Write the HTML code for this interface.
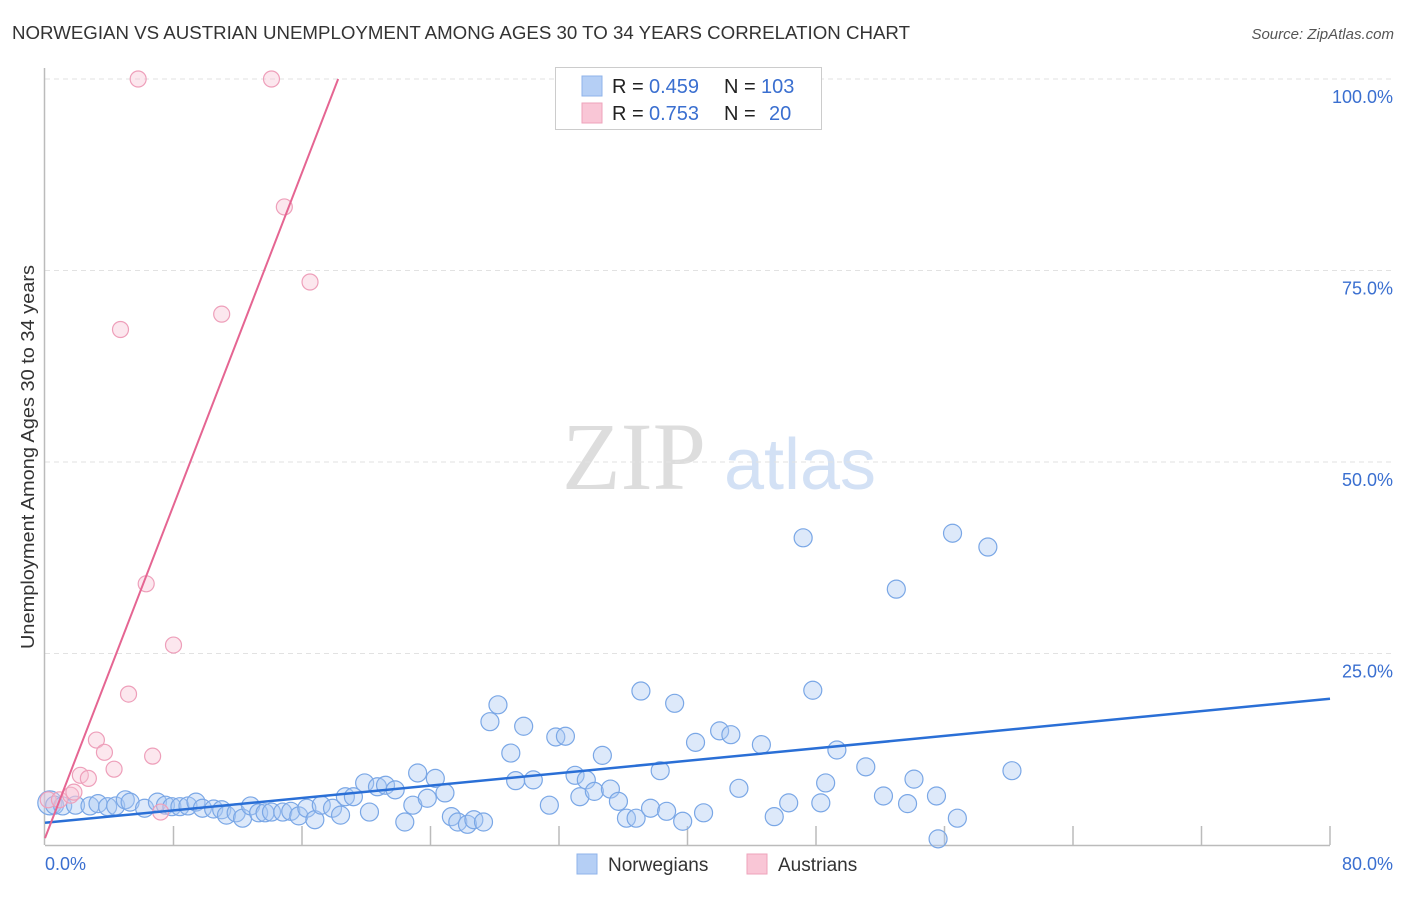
<!DOCTYPE html>
<html><head><meta charset="utf-8"><style>
body{margin:0;background:#fff;width:1406px;height:892px;overflow:hidden;font-family:"Liberation Sans",sans-serif}
</style></head><body>
<svg id="chart" width="1406" height="892" xmlns="http://www.w3.org/2000/svg" style="font-family:'Liberation Sans',sans-serif">
<text x="12" y="39" font-size="18" fill="#333" textLength="898" lengthAdjust="spacingAndGlyphs">NORWEGIAN VS AUSTRIAN UNEMPLOYMENT AMONG AGES 30 TO 34 YEARS CORRELATION CHART</text>
<text x="1394" y="39" font-size="15" fill="#555" font-style="italic" text-anchor="end">Source: ZipAtlas.com</text>
<text transform="translate(34,457) rotate(-90)" font-size="18" fill="#333" text-anchor="middle" textLength="384" lengthAdjust="spacingAndGlyphs">Unemployment Among Ages 30 to 34 years</text>
<g>
<text x="634" y="489" font-size="96" fill="#ddd" font-family="Liberation Serif,serif" text-anchor="middle">ZIP</text>
<text x="800" y="489" font-size="72" fill="#d3e1f5" text-anchor="middle">atlas</text>
</g>
<g id="grid"></g><g id="axes"></g><g id="marks"></g>
<g>
<rect x="555.5" y="67.5" width="266" height="62" fill="#fff" stroke="#ccc"/>
<rect x="582" y="76" width="20" height="20" fill="#b5cff5" stroke="#8fb3ea"/>
<rect x="582" y="103" width="20" height="20" fill="#f9c6d6" stroke="#eea3bb"/>
<text x="612" y="93" font-size="20" fill="#222">R =</text><text x="649" y="93" font-size="20" fill="#3a6fd0">0.459</text>
<text x="724" y="93" font-size="20" fill="#222">N =</text><text x="761" y="93" font-size="20" fill="#3a6fd0">103</text>
<text x="612" y="120" font-size="20" fill="#222">R =</text><text x="649" y="120" font-size="20" fill="#3a6fd0">0.753</text>
<text x="724" y="120" font-size="20" fill="#222">N =</text><text x="769" y="120" font-size="20" fill="#3a6fd0">20</text>
</g>
<g>
<rect x="577" y="854" width="20" height="20" fill="#b5cff5" stroke="#8fb3ea"/>
<text x="608" y="871" font-size="19" fill="#333">Norwegians</text>
<rect x="747" y="854" width="20" height="20" fill="#f9c6d6" stroke="#eea3bb"/>
<text x="778" y="871" font-size="19" fill="#333">Austrians</text>
</g>
</svg>
<script>
const blueX=[0.3,0.6,1.1,1.9,2.8,3.3,3.9,4.4,5.0,5.3,6.2,7.0,7.5,7.9,8.4,8.9,9.4,9.8,10.5,11.0,11.3,11.9,12.3,12.8,13.3,13.7,14.1,14.8,15.3,15.8,16.3,16.8,17.2,17.9,18.4,18.7,19.2,19.9,20.2,20.7,21.2,21.8,22.4,22.9,23.2,23.8,24.3,24.9,25.3,25.7,26.3,26.7,27.3,27.7,28.2,29.0,29.3,29.8,30.4,31.4,31.8,32.4,33.0,33.3,33.7,34.2,34.7,35.2,35.7,36.2,36.8,37.1,37.7,38.3,38.7,39.2,39.7,40.5,41.0,42.0,42.7,43.2,44.6,45.4,46.3,47.2,47.8,48.3,48.6,49.3,51.1,52.2,53.0,53.7,54.1,55.5,55.6,56.5,56.8,58.7,60.2];
const blueY=[5.5,5.2,5.1,5.2,5.1,5.4,5.0,5.1,5.9,5.6,4.8,5.6,5.2,5.0,5.0,5.1,5.6,4.8,4.7,4.6,3.9,4.2,3.5,5.1,4.2,4.2,4.3,4.3,4.4,3.8,4.8,3.3,5.2,4.8,3.9,6.3,6.3,8.1,4.3,7.6,7.8,7.2,3.0,5.2,9.4,6.1,8.7,6.8,3.7,3.0,2.7,3.3,3.0,16.1,18.3,12.0,8.4,15.5,8.5,5.2,14.1,14.2,9.1,6.3,8.5,7.0,11.7,7.3,5.7,3.5,3.5,20.1,4.8,9.7,4.4,18.5,3.1,13.4,4.2,14.9,14.4,7.4,13.1,3.7,5.5,40.1,20.2,5.5,8.1,12.4,10.2,6.4,33.4,5.4,8.6,6.4,0.8,40.7,3.5,38.9,9.7];
const pinkX=[0.2,0.9,1.6,1.8,2.2,2.7,3.2,3.7,4.3,4.7,5.2,5.8,6.3,6.7,7.2,8.0,11.0,14.1,14.9,16.5];
const pinkY=[5.9,5.9,6.5,6.9,9.1,8.7,13.7,12.1,9.9,67.3,19.7,100,34.1,11.6,4.3,26.1,69.3,100,83.3,73.5];
const blueTrend=[2.9,19.1];   // y at x=0 and x=80
const pinkTrend=[0.9,5.43];   // intercept, slope
const yTicks=[25,50,75,100];
const xTickLabels=["0.0%","80.0%"];
const NS="http://www.w3.org/2000/svg";
const X=v=>45+v*(1330-45)/80, Y=v=>845-v*(845-79)/100;
function mk(tag,attrs,parent){const e=document.createElementNS(NS,tag);for(const k in attrs)e.setAttribute(k,attrs[k]);parent.appendChild(e);return e;}
const grid=document.getElementById('grid'),axes=document.getElementById('axes'),marks=document.getElementById('marks');
yTicks.forEach(t=>{
 const l=mk('line',{x1:45,x2:1395,y1:Y(t),y2:Y(t),stroke:'#e2e2e2','stroke-dasharray':'5,4'},grid);
 
 
 const tx=mk('text',{x:1393,y:Y(t)+24,'font-size':18,fill:'#3a6fd0','text-anchor':'end'},axes);
 tx.textContent=t.toFixed(1)+'%';
 
 
});
const ax=mk('line',{x1:45,x2:1330,y1:845.5,y2:845.5,stroke:'#bbb','stroke-width':1.5},axes);


const ay=mk('line',{x1:44.5,x2:44.5,y1:68,y2:845,stroke:'#bbb','stroke-width':1.5},axes);


for(let i=1;i<=10;i++){const t=mk('line',{x1:X(i*8),x2:X(i*8),y1:826,y2:845,stroke:'#bbb','stroke-width':1.5},axes);
 
 }
const xl0=mk('text',{x:45,y:870,'font-size':18,fill:'#3a6fd0'},axes);xl0.textContent=xTickLabels[0];


const xl1=mk('text',{x:1393,y:870,'font-size':18,fill:'#3a6fd0','text-anchor':'end'},axes);xl1.textContent=xTickLabels[1];


blueX.forEach((v,i)=>{const c=mk('circle',{cx:X(v),cy:Y(blueY[i]),r:i==0?12:9,fill:'rgba(170,200,242,0.4)',stroke:'#7aa7e6','stroke-width':1.2},marks);
 
 });
pinkX.forEach((v,i)=>{const c=mk('circle',{cx:X(v),cy:Y(pinkY[i]),r:8,fill:'rgba(248,195,212,0.4)',stroke:'#ee9fba','stroke-width':1.2},marks);
 
 });
const bt=mk('line',{x1:X(0),y1:Y(blueTrend[0]),x2:X(80),y2:Y(blueTrend[1]),stroke:'#2a6fd6','stroke-width':2.5},marks);


const xEnd=(100-pinkTrend[0])/pinkTrend[1];
const pt=mk('line',{x1:X(0),y1:Y(pinkTrend[0]),x2:X(xEnd),y2:Y(100),stroke:'#e56592','stroke-width':2},marks);


</script>
</body></html>
